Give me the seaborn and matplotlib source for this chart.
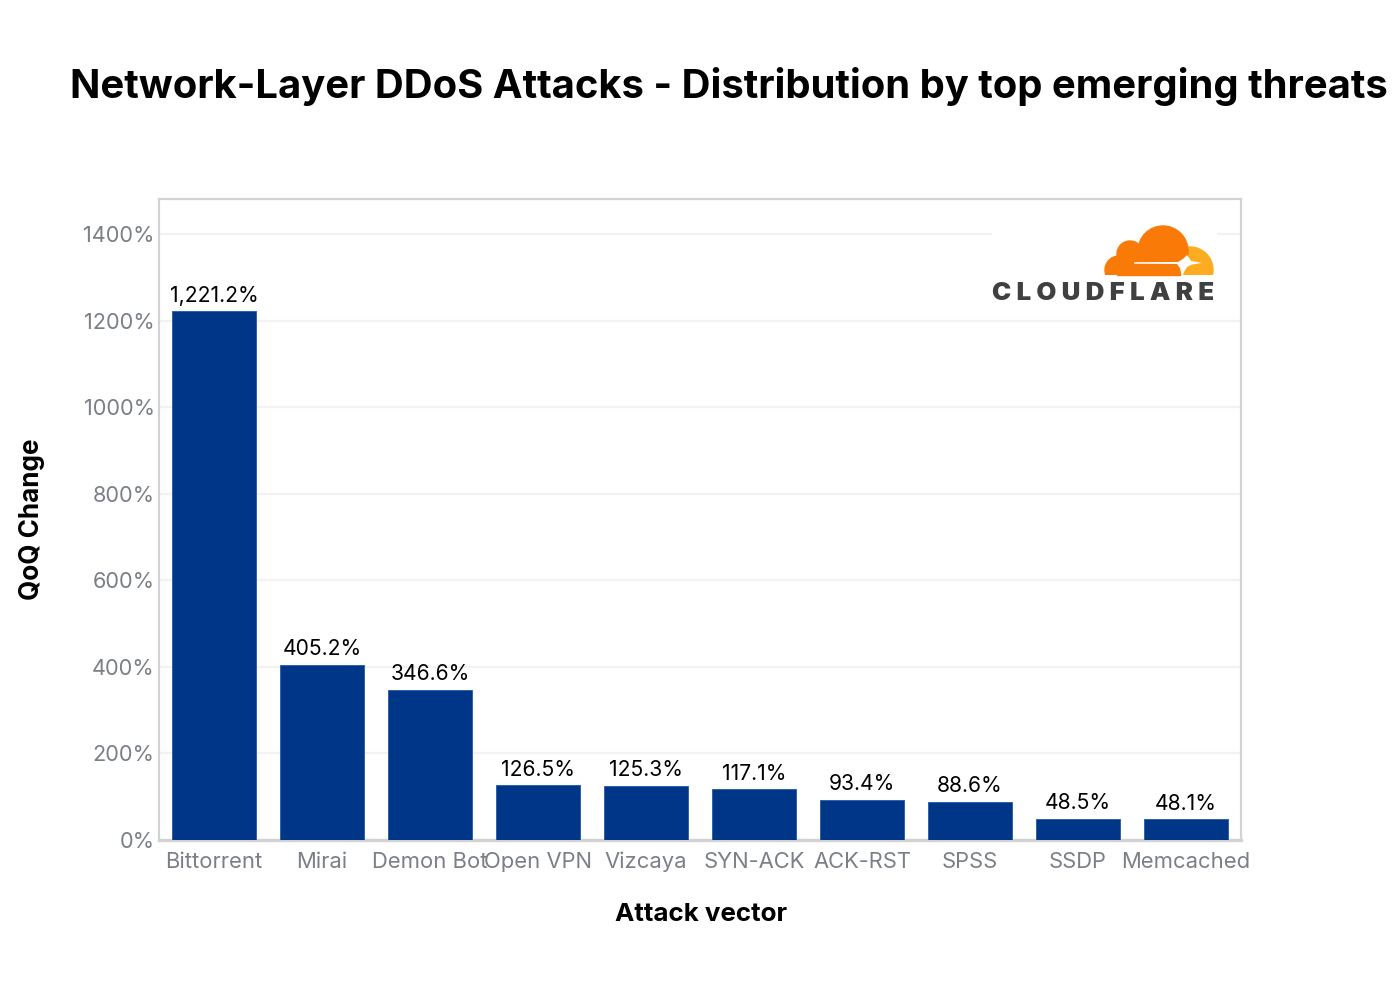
import matplotlib
matplotlib.use("Agg")
import matplotlib.pyplot as plt
import seaborn as sns
import pandas as pd
from matplotlib.patches import Circle, Rectangle, Polygon

categories = ["Bittorrent", "Mirai", "Demon Bot", "Open VPN", "Vizcaya", "SYN-ACK", "ACK-RST", "SPSS", "SSDP", "Memcached"]
values = [1221.2, 405.2, 346.6, 126.5, 125.3, 117.1, 93.4, 88.6, 48.5, 48.1]
value_labels = ["1,221.2%", "405.2%", "346.6%", "126.5%", "125.3%", "117.1%", "93.4%", "88.6%", "48.5%", "48.1%"]
y_ticks = [0, 200, 400, 600, 800, 1000, 1200, 1400]
y_ticklabels = ["0%", "200%", "400%", "600%", "800%", "1000%", "1200%", "1400%"]

W, H = 1400, 1000
sns.set_theme(style="white")
plt.rcParams["font.family"] = ["Inter", "DejaVu Sans"]

fig = plt.figure(figsize=(14, 10), dpi=100, facecolor="white")
ax = fig.add_axes([159 / W, 1 - 840 / H, (1241 - 159) / W, (840 - 199) / H])

df = pd.DataFrame({"vector": categories, "change": values})
sns.barplot(data=df, x="vector", y="change", color="#003687", width=0.785, saturation=1,
            edgecolor="#2f62ad", linewidth=0.7, ax=ax, zorder=3)

ax.set_xlim(-0.509, 9.509)
ax.set_ylim(0, 1481)
ax.set_yticks(y_ticks, y_ticklabels)
ax.grid(axis="y", color="#f2f2f2", linewidth=1.6, zorder=0)
ax.set_axisbelow(True)
ax.tick_params(axis="y", length=0, labelsize=15.7, labelcolor="#7b8086", pad=3)
ax.tick_params(axis="x", length=0, labelsize=15.85, labelcolor="#7b8086", pad=8.5)
for s in ax.spines.values():
    s.set_color("#d2d2d2")
    s.set_linewidth(1.6)
ax.spines["bottom"].set_linewidth(2.4)
ax.spines["bottom"].set_zorder(2)

for container in ax.containers:
    ax.bar_label(container, labels=value_labels, padding=4, fontsize=15.2, color="black")

ax.set_xlabel("Attack vector", fontsize=18.7, fontweight="bold", color="black")
ax.set_ylabel("QoQ Change", fontsize=18.8, fontweight="bold", color="black")
ax.yaxis.set_label_coords(-0.105, 0.5)
ax.xaxis.set_label_coords(0.501, -0.098)

fig.text(70 / W, 1 - 86 / H, "Network-Layer DDoS Attacks - Distribution by top emerging threats",
         fontsize=28.78, fontweight="bold", color="black", ha="left", va="center")

# Cloudflare logo, drawn on an overlay in pixel coordinates
logo = fig.add_axes([0, 0, 1, 1], facecolor="none", zorder=5)
logo.set_xlim(0, W)
logo.set_ylim(H, 0)
logo.set_axis_off()
logo.add_patch(Rectangle((992, 222), 224, 85, color="white", zorder=1))
clip = Rectangle((1090, 220), 130, 55, transform=logo.transData)
orange, yellow = "#f97a06", "#fdab20"
c = Circle((1190, 270), 23, color=yellow, zorder=2)
logo.add_patch(c)
c.set_clip_path(clip)
for cx, cy, r in [(1163, 251, 25), (1130, 254, 13), (1119, 270, 14)]:
    c = Circle((cx, cy), r, color=orange, zorder=4)
    logo.add_patch(c)
    c.set_clip_path(clip)
logo.add_patch(Rectangle((1117, 255), 63, 20, color=orange, zorder=4))
logo.add_patch(Polygon([(1134, 262.2), (1178, 262), (1183, 259), (1187, 255), (1189, 258), (1191, 261),
                        (1202, 263), (1192, 264.5), (1187, 267), (1184, 272), (1183, 275), (1181.5, 275),
                        (1180, 268), (1177, 264), (1134, 263.7)], closed=True, color="white", lw=0, zorder=5))
sp = "\u2009\u200a"
logo.text(1103, 293, sp.join("CLOUDFLARE"), fontsize=18.6, fontweight="black",
          color="#404041", ha="center", va="center", zorder=6)

fig.savefig("out.png", dpi=100, facecolor="white")
